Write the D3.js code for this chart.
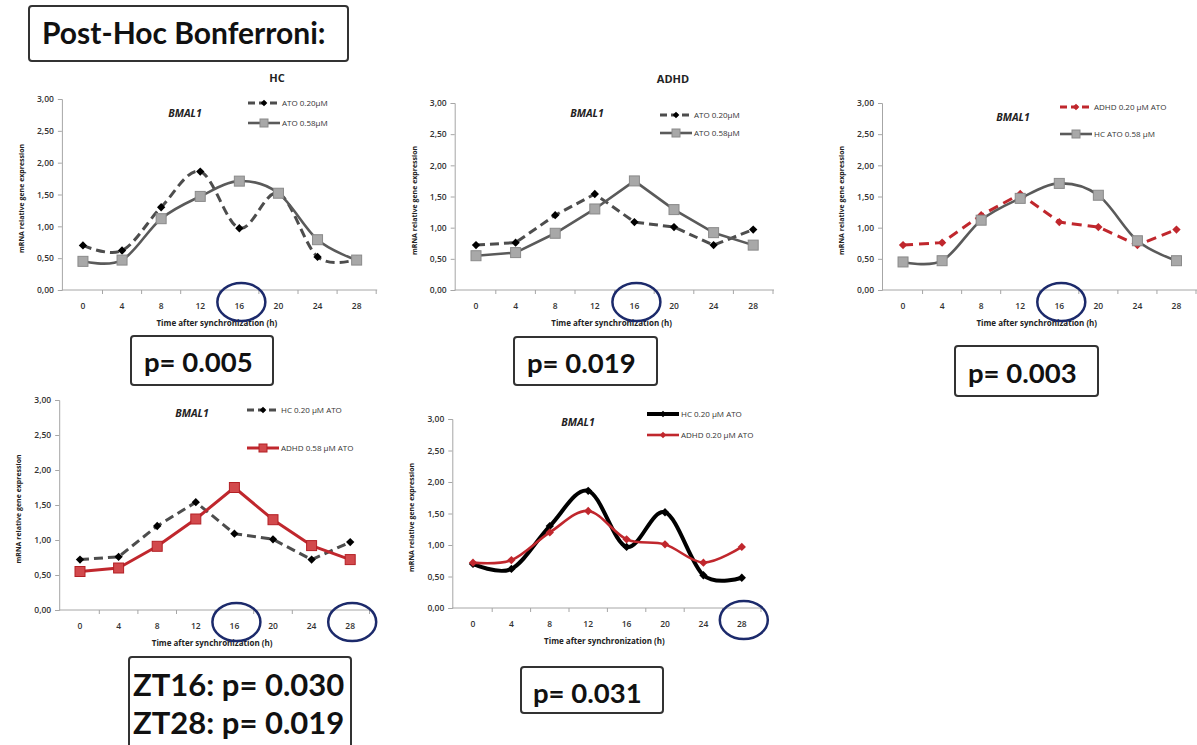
<!DOCTYPE html>
<html>
<head>
<meta charset="utf-8">
<script src="https://cdn.jsdelivr.net/npm/d3@7"></script>
<style>
  html, body { margin: 0; padding: 0; background: #fff; }
  svg { display: block; }
  .tick-label { font-family: "Open Sans", sans-serif; font-size: 8.5px; font-weight: 600; fill: #333; }
  .axis-title { font-family: "Open Sans", sans-serif; font-size: 8px; font-weight: 700; fill: #222; }
  .legend-label { font-family: "Open Sans", sans-serif; font-size: 8px; fill: #333; }
  .gene { font-family: "Open Sans", sans-serif; font-size: 10.5px; font-weight: 700; font-style: italic; fill: #222; }
  .group-title { font-family: "Open Sans", sans-serif; font-size: 11px; font-weight: 700; fill: #222; }
  .big { font-family: "Lato", "Open Sans", sans-serif; font-weight: 700; fill: #111; }
</style>
</head>
<body>
<div id="chart"></div>
<script>
(function () {
  // time points (h after synchronization)
  var hours = [0, 4, 8, 12, 16, 20, 24, 28];
  var yTicks = [0, 0.5, 1, 1.5, 2, 2.5, 3];

  // BMAL1 relative expression
  var hcAto020   = [0.70, 0.62, 1.30, 1.86, 0.97, 1.52, 0.52, 0.48];
  var hcAto058   = [0.45, 0.47, 1.12, 1.47, 1.71, 1.52, 0.79, 0.47];
  var adhdAto020 = [0.72, 0.76, 1.20, 1.54, 1.09, 1.01, 0.72, 0.97];
  var adhdAto058 = [0.55, 0.60, 0.91, 1.30, 1.75, 1.29, 0.92, 0.72];

  var pLabels = ['p= 0.005', 'p= 0.019', 'p= 0.003', 'p= 0.031'];
  var ztLabels = ['ZT16: p= 0.030', 'ZT28: p= 0.019'];

  var RED = '#c0272d';

  var STYLES = {
    grayDash:  { stroke: '#4d4d4d', width: 3, dash: '9,5', marker: 'diamond', mfill: '#000', msize: 7 },
    graySq:    { stroke: '#5a5a5a', width: 2.6, dash: null, marker: 'square', mfill: '#a8a8a8', mstroke: '#8a8a8a', msize: 10 },
    redDash:   { stroke: RED, width: 3, dash: '10,6', marker: 'diamond', mfill: RED, msize: 7 },
    redSq:     { stroke: RED, width: 3, dash: null, marker: 'square', mfill: '#d2494c', mstroke: '#b32025', msize: 10 },
    black:     { stroke: '#000', width: 4, dash: null, marker: 'diamond', mfill: '#000', msize: 7 },
    redThin:   { stroke: RED, width: 2.6, dash: null, marker: 'diamond', mfill: RED, msize: 7 }
  };

  var panels = [
    { left: 63.4, right: 376.2, y0: 290, y3: 99, title: 'HC', titleX: 277, titleY: 78,
      gene: [185, 113], legX: 248, legY: [103, 123], circles: [16],
      series: [
        { name: 'ATO 0.20\u00b5M', values: hcAto020, style: 'grayDash', smooth: true },
        { name: 'ATO 0.58\u00b5M', values: hcAto058, style: 'graySq', smooth: true }
      ] },
    { left: 456.2, right: 773, y0: 290, y3: 103, title: 'ADHD', titleX: 673, titleY: 79,
      gene: [587, 113], legX: 660, legY: [115, 133], circles: [16],
      series: [
        { name: 'ATO 0.20\u00b5M', values: adhdAto020, style: 'grayDash', smooth: false },
        { name: 'ATO 0.58\u00b5M', values: adhdAto058, style: 'graySq', smooth: false }
      ] },
    { left: 883.5, right: 1196, y0: 290, y3: 103, title: null,
      gene: [1013, 117], legX: 1060, legY: [107, 134], circles: [16],
      series: [
        { name: 'ADHD 0.20 \u00b5M ATO', values: adhdAto020, style: 'redDash', smooth: false },
        { name: 'HC ATO 0.58 \u00b5M', values: hcAto058, style: 'graySq', smooth: true }
      ] },
    { left: 60.7, right: 369.5, y0: 610, y3: 400, title: null,
      gene: [192, 413], legX: 247, legY: [410, 448], circles: [16, 28],
      series: [
        { name: 'HC 0.20 \u00b5M ATO', values: adhdAto020, style: 'grayDash', smooth: false },
        { name: 'ADHD 0.58 \u00b5M ATO', values: adhdAto058, style: 'redSq', smooth: false }
      ] },
    { left: 453.8, right: 761, y0: 608, y3: 419, title: null,
      gene: [578, 422], legX: 647, legY: [414, 435], circles: [28],
      series: [
        { name: 'HC 0.20 \u00b5M ATO', values: hcAto020, style: 'black', smooth: true },
        { name: 'ADHD 0.20 \u00b5M ATO', values: adhdAto020, style: 'redThin', smooth: true }
      ] }
  ];

  var svg = d3.select('#chart').append('svg')
    .attr('width', 1197)
    .attr('height', 745);

  var fmt = function (v) { return d3.format('.2f')(v).replace('.', ','); };

  function drawMarker(sel, st, x, y, scale) {
    var s = st.msize * (scale || 1);
    if (st.marker === 'square') {
      sel.append('rect')
        .attr('x', x - s / 2).attr('y', y - s / 2)
        .attr('width', s).attr('height', s)
        .attr('fill', st.mfill).attr('stroke', st.mstroke).attr('stroke-width', 1);
    } else {
      sel.append('path')
        .attr('d', d3.symbol(d3.symbolDiamond2, s * s * 0.9)())
        .attr('transform', 'translate(' + x + ',' + y + ')')
        .attr('fill', st.mfill);
    }
  }

  panels.forEach(function (p) {
    var g = svg.append('g');

    var x = d3.scaleBand().domain(hours).range([p.left, p.right]);
    var y = d3.scaleLinear().domain([0, 3]).range([p.y0, p.y3]);
    var axisX = p.left - 1.5;

    // y axis
    var yAxis = g.append('g')
      .attr('transform', 'translate(' + axisX + ',0)')
      .call(d3.axisLeft(y).tickValues(yTicks).tickSize(4).tickFormat(fmt));
    yAxis.select('.domain').attr('stroke', '#a6a6a6');
    yAxis.selectAll('.tick line').attr('stroke', '#a6a6a6');
    yAxis.selectAll('.tick text').attr('class', 'tick-label').attr('x', -8);

    // x axis with ticks between categories
    var xAxis = g.append('g')
      .attr('transform', 'translate(0,' + p.y0 + ')')
      .call(d3.axisBottom(x).tickSize(0).tickPadding(13));
    xAxis.select('.domain').attr('stroke', '#a6a6a6').attr('d', 'M' + axisX + ',0H' + (p.right + 1));
    xAxis.selectAll('.tick text').attr('class', 'tick-label');
    g.append('g').selectAll('line')
      .data(hours)
      .join('line')
      .attr('x1', function (d) { return x(d) + x.bandwidth(); })
      .attr('x2', function (d) { return x(d) + x.bandwidth(); })
      .attr('y1', p.y0).attr('y2', p.y0 + 4)
      .attr('stroke', '#a6a6a6');

    // axis titles
    g.append('text')
      .attr('class', 'axis-title')
      .attr('x', (p.left + p.right) / 2 - 3)
      .attr('y', p.y0 + 36)
      .attr('text-anchor', 'middle')
      .text('Time after synchronization (h)');
    g.append('text')
      .attr('class', 'axis-title')
      .style('font-size', '7px')
      .attr('transform', 'translate(' + (axisX - 38) + ',' + ((p.y0 + p.y3) / 2 + 4) + ') rotate(-90)')
      .attr('text-anchor', 'middle')
      .text('mRNA relative gene expression');

    // gene name and group title
    g.append('text').attr('class', 'gene')
      .attr('x', p.gene[0]).attr('y', p.gene[1] + 4)
      .attr('text-anchor', 'middle')
      .text('BMAL1');
    if (p.title) {
      g.append('text').attr('class', 'group-title')
        .attr('x', p.titleX).attr('y', p.titleY + 4)
        .attr('text-anchor', 'middle')
        .text(p.title);
    }

    // series
    p.series.forEach(function (s, i) {
      var st = STYLES[s.style];
      var line = d3.line()
        .x(function (d, j) { return x(hours[j]) + x.bandwidth() / 2; })
        .y(function (d) { return y(d); })
        .curve(s.smooth ? d3.curveCardinal.tension(0) : d3.curveLinear);

      g.append('path')
        .attr('d', line(s.values))
        .attr('fill', 'none')
        .attr('stroke', st.stroke)
        .attr('stroke-width', st.width)
        .attr('stroke-dasharray', st.dash)
        .attr('stroke-linejoin', 'round');

      var mg = g.append('g');
      s.values.forEach(function (v, j) {
        drawMarker(mg, st, x(hours[j]) + x.bandwidth() / 2, y(v));
      });

      // legend entry
      var ly = p.legY[i];
      g.append('line')
        .attr('x1', p.legX).attr('x2', p.legX + 32)
        .attr('y1', ly).attr('y2', ly)
        .attr('stroke', st.stroke)
        .attr('stroke-width', st.width)
        .attr('stroke-dasharray', st.dash ? '7,4' : null);
      drawMarker(g, st, p.legX + 16, ly, 0.8);
      g.append('text').attr('class', 'legend-label')
        .attr('x', p.legX + 34).attr('y', ly + 3)
        .text(s.name);
    });

    // highlighted time points
    p.circles.forEach(function (c) {
      g.append('ellipse')
        .attr('cx', x(c) + x.bandwidth() / 2 + 2)
        .attr('cy', p.y0 + 12)
        .attr('rx', 24).attr('ry', 19)
        .attr('fill', 'none')
        .attr('stroke', '#1c2a6b')
        .attr('stroke-width', 2.5);
    });
  });

  // annotation boxes
  function box(x0, y0, w, h, lines, size, anchorX, firstY, lineGap) {
    svg.append('rect')
      .attr('x', x0).attr('y', y0).attr('width', w).attr('height', h)
      .attr('rx', 3)
      .attr('fill', '#fff').attr('stroke', '#333').attr('stroke-width', 2);
    lines.forEach(function (t, i) {
      svg.append('text').attr('class', 'big')
        .attr('x', anchorX).attr('y', firstY + i * lineGap)
        .style('font-size', size + 'px')
        .text(t);
    });
  }

  box(29, 6, 319, 55, ['Post-Hoc Bonferroni:'], 30, 42, 44, 0);
  box(131, 336, 142, 49, [pLabels[0]], 27.5, 144, 372, 0);
  box(514, 337, 143, 48, [pLabels[1]], 27.5, 527, 373, 0);
  box(955, 346, 143, 50, [pLabels[2]], 27.5, 968, 383, 0);
  box(129, 657, 222, 100, ztLabels, 31, 133, 696, 38);
  box(521, 667, 142, 46, [pLabels[3]], 27.5, 533, 703, 0);
})();
</script>
</body>
</html>
